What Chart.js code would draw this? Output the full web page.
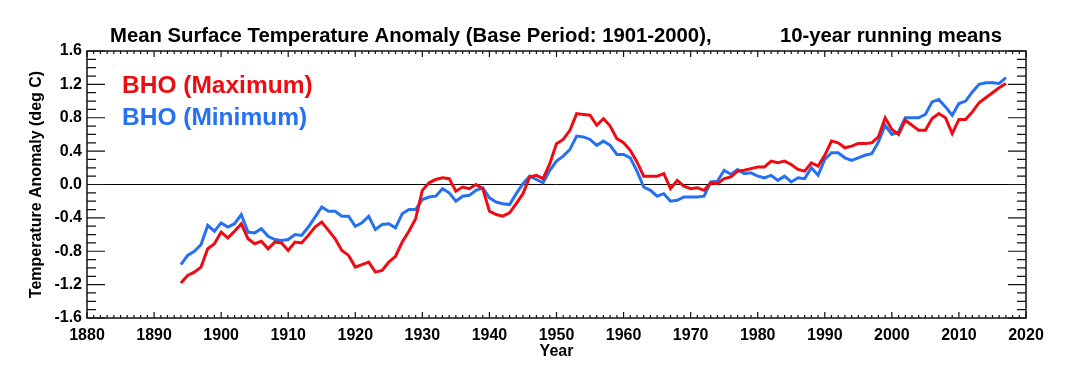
<!DOCTYPE html>
<html>
<head>
<meta charset="utf-8">
<script src="https://cdn.jsdelivr.net/npm/chart.js@4"></script>
<style>
  html, body { margin: 0; padding: 0; background: #fff; }
  canvas { display: block; }
</style>
</head>
<body>
<canvas id="myChart" width="1074" height="386"></canvas>
<script>
// years of the 10-year running means
const years = []
for (let y = 1894; y <= 2017; y++) years.push(y)

// BHO (Maximum), deg C
const maxAnomaly = [
  -1.18, -1.09, -1.05, -0.99, -0.77, -0.71, -0.57, -0.64, -0.56, -0.47,
  -0.65, -0.71, -0.68, -0.77, -0.69, -0.70, -0.79, -0.69, -0.70, -0.61,
  -0.51, -0.45, -0.55, -0.65, -0.79, -0.85, -0.99, -0.96, -0.93, -1.05,
  -1.03, -0.93, -0.86, -0.69, -0.56, -0.41, -0.07, 0.02, 0.06, 0.08,
  0.07, -0.08, -0.03, -0.05, 0.00, -0.05, -0.32, -0.36, -0.38, -0.34,
  -0.23, -0.11, 0.09, 0.11, 0.07, 0.25, 0.49, 0.54, 0.65, 0.85,
  0.84, 0.83, 0.71, 0.79, 0.70, 0.55, 0.50, 0.41, 0.27, 0.10,
  0.10, 0.10, 0.13, -0.05, 0.05, -0.02, -0.05, -0.04, -0.07, 0.02,
  0.01, 0.07, 0.09, 0.16, 0.17, 0.19, 0.21, 0.21, 0.28, 0.26,
  0.28, 0.24, 0.18, 0.16, 0.26, 0.22, 0.35, 0.52, 0.50, 0.44,
  0.46, 0.49, 0.49, 0.50, 0.57, 0.80, 0.66, 0.60, 0.77, 0.71,
  0.65, 0.65, 0.79, 0.85, 0.80, 0.61, 0.78, 0.78, 0.87, 0.98,
  1.04, 1.10, 1.16, 1.21
]

// BHO (Minimum), deg C
const minAnomaly = [
  -0.96, -0.85, -0.80, -0.72, -0.49, -0.56, -0.46, -0.51, -0.47, -0.36,
  -0.57, -0.58, -0.53, -0.62, -0.66, -0.67, -0.66, -0.60, -0.61, -0.51,
  -0.39, -0.27, -0.32, -0.32, -0.38, -0.38, -0.50, -0.46, -0.38, -0.54,
  -0.48, -0.47, -0.52, -0.35, -0.30, -0.30, -0.18, -0.15, -0.14, -0.05,
  -0.10, -0.20, -0.14, -0.13, -0.07, -0.04, -0.16, -0.21, -0.23, -0.24,
  -0.11, 0.01, 0.10, 0.06, 0.02, 0.17, 0.28, 0.34, 0.42, 0.58,
  0.57, 0.54, 0.47, 0.52, 0.47, 0.36, 0.36, 0.32, 0.16, -0.03,
  -0.07, -0.14, -0.11, -0.20, -0.19, -0.15, -0.15, -0.15, -0.14, 0.03,
  0.04, 0.17, 0.12, 0.18, 0.13, 0.14, 0.10, 0.08, 0.11, 0.05,
  0.10, 0.03, 0.08, 0.07, 0.20, 0.11, 0.30, 0.38, 0.38, 0.32,
  0.29, 0.32, 0.35, 0.37, 0.51, 0.71, 0.60, 0.63, 0.80, 0.80,
  0.80, 0.84, 0.99, 1.02, 0.93, 0.83, 0.97, 1.00, 1.11, 1.20,
  1.22, 1.22, 1.21, 1.28
]

const seriesNames = ['BHO (Maximum)', 'BHO (Minimum)']
const seriesColors = ['#ec0c12', '#2571f2']
const titleLeft = 'Mean Surface Temperature Anomaly (Base Period: 1901-2000),'
const titleRight = '10-year running means'
const xTitle = 'Year'
const yTitle = 'Temperature Anomaly (deg C)'

const FONT = "'Liberation Sans', Arial, Helvetica, sans-serif"
Chart.defaults.font.family = FONT
Chart.defaults.color = '#000'

const ctx = document.getElementById('myChart')

function toPoints(vals){
  return vals.map((v, i) => ({x: years[i], y: v}))
}

// title, legend text, zero line, frame and inward ticks
const decorPlugin = {
  id: 'decor',
  beforeDatasetsDraw(chart){
    const c = chart.ctx
    const a = chart.chartArea
    const y0 = chart.scales.y.getPixelForValue(0)
    c.save()
    c.strokeStyle = '#000'
    c.lineWidth = 1
    c.beginPath()
    c.moveTo(a.left, y0)
    c.lineTo(a.right, y0)
    c.stroke()
    c.restore()
  },
  afterDatasetsDraw(chart){
    const c = chart.ctx
    const a = chart.chartArea
    const xs = chart.scales.x
    const ys = chart.scales.y
    c.save()
    c.strokeStyle = '#111'
    c.lineWidth = 1.5
    c.strokeRect(a.left, a.top, a.right - a.left, a.bottom - a.top)
    c.lineWidth = 1.2
    c.beginPath()
    // y ticks every 0.1, major every 0.4
    for (let k = -16; k <= 16; k++){
      const py = ys.getPixelForValue(k / 10)
      const len = (k % 4 === 0) ? 18 : 9
      c.moveTo(a.left, py); c.lineTo(a.left + len, py)
      c.moveTo(a.right, py); c.lineTo(a.right - len, py)
    }
    // x ticks every year, major every 10
    for (let yr = 1880; yr <= 2020; yr++){
      const px = xs.getPixelForValue(yr)
      const len = (yr % 10 === 0) ? 6 : 3
      c.moveTo(px, a.bottom); c.lineTo(px, a.bottom - len)
      c.moveTo(px, a.top); c.lineTo(px, a.top + len)
    }
    c.stroke()

    // title
    c.fillStyle = '#000'
    c.font = 'bold 20.3px ' + FONT
    c.textBaseline = 'alphabetic'
    c.textAlign = 'left'
    c.fillText(titleLeft, 110, 42)
    c.textAlign = 'right'
    c.fillText(titleRight, 1002, 42)

    // legend text
    c.font = 'bold 24.5px ' + FONT
    c.textAlign = 'left'
    chart.data.datasets.forEach((ds, i) => {
      c.fillStyle = ds.borderColor
      c.fillText(ds.label, 122, 93 + i * 32)
    })
    c.restore()
  }
}

new Chart(ctx, {
  type: 'line',
  data: {
    datasets: [
      {
        label: seriesNames[0],
        data: toPoints(maxAnomaly),
        borderColor: seriesColors[0],
        borderWidth: 3,
        pointRadius: 0,
        tension: 0,
        fill: false
      },
      {
        label: seriesNames[1],
        data: toPoints(minAnomaly),
        borderColor: seriesColors[1],
        borderWidth: 3,
        pointRadius: 0,
        tension: 0,
        fill: false
      }
    ]
  },
  options: {
    responsive: false,
    animation: false,
    devicePixelRatio: 1,
    layout: { padding: { left: 0, right: 48, top: 51, bottom: 0 } },
    plugins: {
      legend: { display: false },
      tooltip: { enabled: false },
      title: { display: false }
    },
    scales: {
      x: {
        type: 'linear',
        min: 1880,
        max: 2020,
        grid: { display: false, drawTicks: false },
        border: { display: false },
        ticks: {
          stepSize: 10,
          maxRotation: 0,
          padding: 8,
          font: { size: 16, weight: 'bold' },
          callback: v => String(v)
        },
        title: {
          display: true,
          text: xTitle,
          font: { size: 16, weight: 'bold' },
          padding: { top: 0, bottom: 25 }
        },
        afterFit(scale){ scale.height = 68 }
      },
      y: {
        min: -1.6,
        max: 1.6,
        grid: { display: false, drawTicks: false },
        border: { display: false },
        ticks: {
          stepSize: 0.4,
          padding: 5,
          font: { size: 16, weight: 'bold' },
          callback: v => Math.abs(v) < 1e-9 ? '0.0' : v.toFixed(1)
        },
        title: {
          display: true,
          text: yTitle,
          font: { size: 16, weight: 'bold' },
          padding: { top: 27, bottom: 0 }
        },
        afterFit(scale){ scale.width = 87 }
      }
    }
  },
  plugins: [decorPlugin]
})
</script>
</body>
</html>
